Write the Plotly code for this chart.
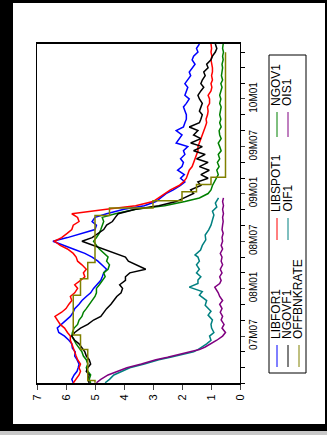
import plotly.graph_objects as go

# semi-monthly observation dates for the four main series
MAIN_DATES = [f"{y}-{m:02d}-{d:02d}" for y in (2007, 2008, 2009, 2010)
              for m in range(1, 13) for d in (1, 15) if (y, m) <= (2010, 7)] + ["2010-08-01"]

LIBFOR1 = [
    5.75, 5.80, 5.72, 5.62, 5.58, 5.55, 5.62, 5.70, 5.68, 5.78, 5.80, 5.90,
    6.05, 6.25, 6.30, 6.15, 6.00, 5.85, 5.75, 5.70, 5.55, 5.45, 5.30, 5.15,
    5.05, 4.95, 4.80, 4.75, 4.70, 4.60, 4.75, 4.90, 5.10, 5.35, 5.75, 6.10,
    6.45, 5.95, 5.40, 5.00, 4.95, 5.10, 5.00, 4.60, 4.00, 3.30, 2.90, 2.75,
    2.55, 2.30, 2.05, 1.90, 2.05, 1.92, 2.15, 2.00, 1.95, 2.05, 1.90, 1.95,
    1.80, 2.20, 2.10, 2.00, 2.20, 1.95, 1.90, 1.85, 1.85, 1.90, 1.95, 1.85,
    1.75, 1.90, 1.85, 1.80, 1.90, 1.80, 1.70, 1.75, 1.65, 1.55, 1.65, 1.60,
    1.45, 1.50, 1.40]
LIBSPOT1 = [
    5.75, 5.65, 5.55, 5.50, 5.55, 5.50, 5.60, 5.65, 5.70, 5.72, 5.80, 5.85,
    5.85, 5.95, 6.05, 6.20, 6.30, 6.38, 6.15, 6.00, 5.90, 5.80, 5.85, 5.70,
    5.60, 5.70, 5.50, 5.35, 5.40, 5.30, 5.45, 5.60, 5.65, 5.75, 5.95, 6.20,
    6.40, 6.15, 5.95, 5.80, 5.75, 5.55, 5.60, 5.80, 4.60, 3.60, 3.00, 2.80,
    2.60, 2.40, 2.10, 1.95, 1.85, 1.80, 1.75, 1.65, 1.60, 1.55, 1.50, 1.45,
    1.45, 1.40, 1.35, 1.30, 1.25, 1.20, 1.15, 1.17, 1.12, 1.10, 1.12, 1.05,
    1.05, 1.10, 1.00, 0.97, 1.00, 0.95, 0.98, 0.95, 0.95, 0.97, 1.00, 0.97,
    1.00, 0.98, 1.00]
NGOV1 = [
    5.15, 5.20, 5.15, 5.25, 5.30, 5.25, 5.30, 5.40, 5.45, 5.55, 5.65, 5.72,
    5.80, 5.78, 5.72, 5.60, 5.55, 5.45, 5.40, 5.30, 5.20, 5.10, 5.00, 4.95,
    4.95, 4.85, 4.75, 4.65, 4.70, 4.55, 4.50, 4.60, 4.55, 4.70, 4.85, 4.95,
    5.05, 4.95, 4.85, 4.80, 4.75, 4.70, 4.75, 4.30, 3.60, 2.60, 1.90, 1.40,
    1.10, 1.00, 0.95, 0.88, 0.80, 0.75, 0.80, 0.72, 0.78, 0.70, 0.75, 0.65,
    0.70, 0.75, 0.65, 0.70, 0.72, 0.65, 0.70, 0.66, 0.70, 0.68, 0.65, 0.70,
    0.66, 0.70, 0.65, 0.62, 0.66, 0.60, 0.64, 0.62, 0.60, 0.62, 0.58, 0.60,
    0.57, 0.60, 0.58]
NGOVF1 = [
    5.20, 5.25, 5.20, 5.30, 5.25, 5.15, 5.20, 5.30, 5.35, 5.45, 5.55, 5.70,
    5.80, 5.70, 5.50, 5.25, 5.05, 4.80, 4.70, 4.60, 4.45, 4.35, 4.25, 4.10,
    4.05, 4.15, 3.95, 3.95, 3.80, 3.25, 3.60, 3.85, 3.95, 4.30, 4.75, 5.10,
    5.45, 5.10, 4.90, 4.70, 4.60, 4.40, 4.30, 4.20, 3.60, 2.80, 2.20, 1.90,
    1.60, 1.70, 1.35, 1.45, 1.10, 1.35, 1.06, 1.40, 1.10, 1.50, 1.20, 1.60,
    1.30, 1.70, 1.35, 1.60, 1.45, 1.75, 1.40, 1.35, 1.30, 1.40, 1.35, 1.30,
    1.40, 1.45, 1.35, 1.25, 1.35, 1.30, 1.20, 1.25, 1.10, 1.15, 1.00, 0.95,
    0.85, 0.80, 0.85]

OIF1_DATES = [
    "2007-01-02", "2007-01-15", "2007-02-01", "2007-02-15", "2007-03-01", "2007-03-15",
    "2007-04-01", "2007-04-10", "2007-04-20", "2007-05-01", "2007-05-10", "2007-05-20",
    "2007-06-01", "2007-06-15", "2007-07-01", "2007-07-15", "2007-08-01", "2007-08-15",
    "2007-09-01", "2007-09-20", "2007-10-05", "2007-10-28", "2007-11-15", "2007-12-06",
    "2007-12-20", "2008-01-06", "2008-01-20", "2008-02-02", "2008-02-15", "2008-03-01",
    "2008-03-15", "2008-04-01", "2008-04-15", "2008-05-01", "2008-05-09", "2008-05-28",
    "2008-06-15", "2008-07-06", "2008-07-25", "2008-08-14", "2008-09-01", "2008-09-21",
    "2008-10-10", "2008-10-25", "2008-11-10", "2008-11-25", "2008-12-15"]
OIF1 = [
    4.65, 4.50, 4.35, 4.10, 3.80, 3.30, 2.80, 2.40, 2.00, 1.60, 1.45, 1.30,
    1.15, 1.00, 1.05, 0.90, 0.98, 1.00, 0.95, 1.10, 1.00, 1.20, 1.15, 1.40,
    1.30, 1.75, 1.45, 1.45, 1.35, 1.50, 1.40, 1.50, 1.40, 1.45, 1.55, 1.36,
    1.30, 1.18, 1.20, 1.08, 1.00, 0.95, 0.90, 0.95, 0.80, 0.85, 0.74]

OIS1_DATES = [
    "2007-01-02", "2007-01-15", "2007-02-01", "2007-02-15", "2007-03-01", "2007-03-15",
    "2007-04-01", "2007-04-10", "2007-04-20", "2007-05-01", "2007-05-10", "2007-05-20",
    "2007-06-01", "2007-06-15", "2007-07-01", "2007-07-15", "2007-08-01", "2007-08-15",
    "2007-09-01", "2007-09-15", "2007-10-01", "2007-10-15", "2007-11-01", "2007-11-15",
    "2007-12-01", "2007-12-15", "2008-01-06", "2008-01-20", "2008-02-01", "2008-02-15",
    "2008-03-01", "2008-03-15", "2008-04-01", "2008-04-15", "2008-05-01", "2008-05-15",
    "2008-06-01", "2008-06-15", "2008-07-01", "2008-07-15", "2008-08-01", "2008-08-15",
    "2008-09-01", "2008-09-15", "2008-10-01", "2008-10-15", "2008-11-01", "2008-11-15",
    "2008-12-01", "2008-12-15"]
OIS1 = [
    4.95, 4.80, 4.55, 4.20, 3.90, 3.40, 2.90, 2.50, 2.10, 1.70, 1.40, 1.20,
    1.00, 0.80, 0.60, 0.50, 0.62, 0.55, 0.65, 0.60, 0.68, 0.62, 0.70, 0.60,
    0.70, 0.75, 0.87, 0.70, 0.65, 0.70, 0.62, 0.68, 0.60, 0.65, 0.62, 0.68,
    0.60, 0.65, 0.60, 0.62, 0.58, 0.62, 0.60, 0.58, 0.60, 0.57, 0.60, 0.57,
    0.60, 0.57]

BANK_DATES = ["2007-01-02", "2007-01-11", "2007-05-10", "2007-07-05", "2007-12-06",
              "2008-02-07", "2008-04-10", "2008-10-08", "2008-11-06", "2008-12-04",
              "2009-01-08", "2009-02-05", "2009-03-05", "2010-06-30"]
OFFBNKRATE = [5.00, 5.25, 5.50, 5.75, 5.50, 5.25, 5.00, 4.50, 3.00, 2.00,
              1.50, 1.00, 0.50, 0.50]

VALUE_TICKS = [0, 1, 2, 3, 4, 5, 6, 7]
DATE_TICKS = ["2007-07-01", "2008-01-01", "2008-07-01", "2009-01-01", "2009-07-01", "2010-01-01"]
DATE_LABELS = ["07M07", "08M01", "08M07", "09M01", "09M07", "10M01"]

SERIES = [
    ("LIBFOR1", MAIN_DATES, LIBFOR1, "#0000ff"),
    ("LIBSPOT1", MAIN_DATES, LIBSPOT1, "#ff0000"),
    ("NGOV1", MAIN_DATES, NGOV1, "#008000"),
    ("NGOVF1", MAIN_DATES, NGOVF1, "#000000"),
    ("OIF1", OIF1_DATES, OIF1, "#008080"),
    ("OIS1", OIS1_DATES, OIS1, "#800080"),
    ("OFFBNKRATE", BANK_DATES, OFFBNKRATE, "#808000"),
]

W, H = 327, 435
L, R, T, B = 37, 87, 44, 52
PW, PH = W - L - R, H - T - B


def px(x):
    return (x - L) / PW


def py(y):
    return (H - B - y) / PH


fig = go.Figure()
for name, d, v, c in SERIES:
    fig.add_trace(go.Scatter(
        x=v, y=d, mode="lines", name=name,
        line=dict(color=c, width=1.5, shape="vh" if name == "OFFBNKRATE" else "linear"),
        showlegend=False))

FONT = "Liberation Sans, Arial, sans-serif"
fig.update_layout(
    width=W, height=H, margin=dict(l=L, r=R, t=T, b=B, autoexpand=False),
    paper_bgcolor="black", plot_bgcolor="white",
    font=dict(family=FONT, size=10, color="black"),
    xaxis=dict(range=[7, 0], tickvals=VALUE_TICKS, tickangle=-90, automargin=False,
               showgrid=False, zeroline=False, showline=True, linewidth=2,
               linecolor="black", mirror=True, ticks="outside", ticklen=5,
               tickwidth=1, tickfont=dict(size=11)),
    yaxis=dict(type="date", range=["2007-01-01", "2010-08-01"], side="right",
               automargin=False,
               tickvals=DATE_TICKS, ticktext=DATE_LABELS, tickangle=-90,
               showgrid=False, zeroline=False, showline=True, linewidth=1,
               linecolor="black", mirror=True, ticks="outside", ticklen=4,
               tickfont=dict(size=10),
               minor=dict(ticks="outside", dtick="M2", tick0="2007-01-01",
                          ticklen=4, tickcolor="black")),
)

shapes = [
    # white sheet inside the picture's black frame
    dict(type="rect", xref="paper", yref="paper", x0=px(13), x1=px(325),
         y0=py(424), y1=py(3), line=dict(width=0), fillcolor="white", layer="below"),
    # legend box
    dict(type="rect", xref="paper", yref="paper", x0=px(269), x1=px(306),
         y0=py(373), y1=py(55), line=dict(color="black", width=1),
         fillcolor="rgba(0,0,0,0)"),
]
# black frame bands drawn on top as well
for x0, y0, x1, y1 in [(0, 0, 13, H), (0, 0, W, 3), (325, 0, W, H), (0, 424, W, 431)]:
    shapes.append(dict(type="rect", xref="paper", yref="paper",
                       x0=px(x0), x1=px(x1), y0=py(y1), y1=py(y0),
                       line=dict(width=0), fillcolor="black", layer="above"))
shapes.append(dict(type="rect", xref="paper", yref="paper", x0=px(0), x1=px(W),
                   y0=py(H), y1=py(431), line=dict(width=0), fillcolor="#c8c8c8",
                   layer="above"))

rows = [277, 288, 299]
cols = [(345, 367), (218, 240), (112, 137)]
for i, (name, d, v, c) in enumerate(SERIES):
    r, k = divmod(i, 3)
    xl = rows[r]
    yb, yt = cols[k]
    shapes.append(dict(type="line", xref="paper", yref="paper",
                       x0=px(xl), x1=px(xl), y0=py(yb), y1=py(yt),
                       line=dict(color=c, width=1)))
    fig.add_annotation(xref="paper", yref="paper", x=px(xl - 1), y=py(yb - 4),
                       text=name, textangle=-90, showarrow=False,
                       xanchor="center", yanchor="bottom",
                       font=dict(size=12, family=FONT, color="black"))
fig.update_layout(shapes=shapes)
fig.write_html("out.html", config={"displayModeBar": False, "staticPlot": True},
               post_script="document.body.style.margin='0px';document.body.style.overflow='hidden';")
